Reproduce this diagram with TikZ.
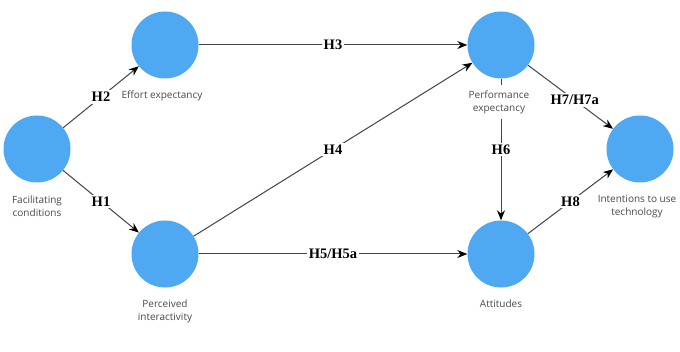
\documentclass[tikz,border=0pt]{standalone}
\usepackage{fontspec}
\setmainfont{Open Sans}
\newfontfamily\hfont{Liberation Serif}
\usetikzlibrary{arrows.meta}
\definecolor{nodeblue}{HTML}{4FA8F2}
\definecolor{edgegray}{HTML}{444444}
\definecolor{txtgray}{HTML}{4A4A4A}
\tikzset{
  construct/.style={circle, fill=nodeblue, minimum size=67pt, inner sep=0pt},
  caption/.style={font=\fontsize{10}{13}\selectfont, text=txtgray, align=center, fill=white, inner sep=2pt},
  link/.style={draw=edgegray, line width=1pt, -{Stealth[length=10pt,width=8pt,color=black]}},
  hyp/.style={font=\hfont\bfseries\fontsize{14.5}{16}\selectfont, fill=white, inner sep=2pt}
}
\begin{document}
\begin{tikzpicture}[x=1pt,y=-1pt]
\useasboundingbox[fill=white] (0,0) rectangle (680,352);
\node[construct] (fc) at (37,149) {};
\node[construct] (ee) at (165,45) {};
\node[construct] (pi) at (165,254) {};
\node[construct] (pe) at (501,45) {};
\node[construct] (at) at (501,254) {};
\node[construct] (it) at (640,149) {};
\draw[link] (fc) -- node[hyp]{H2} (ee);
\draw[link] (fc) -- node[hyp]{H1} (pi);
\draw[link] (ee) -- node[hyp]{H3} (pe);
\draw[link] (pi) -- node[hyp]{H4} (pe);
\draw[link] (pi) -- node[hyp]{H5/H5a} (at);
\draw[link] (pe) -- node[hyp]{H6} (at);
\draw[link] (pe) -- node[hyp,pos=0.55]{H7/H7a} (it);
\draw[link] (at) -- node[hyp]{H8} (it);
\node[caption] (lfc) at (37,206.5) {Facilitating\\conditions};
\node[caption] (lee) at (162,96) {Effort expectancy};
\node[caption] (lpi) at (165,311) {Perceived\\interactivity};
\node[caption, inner ysep=5pt] (lpe) at (499,102) {Performance\\expectancy};
\node[caption] (lat) at (501,304) {Attitudes};
\node[caption] (lit) at (637,206.5) {Intentions to use\\technology};
\end{tikzpicture}
\end{document}
